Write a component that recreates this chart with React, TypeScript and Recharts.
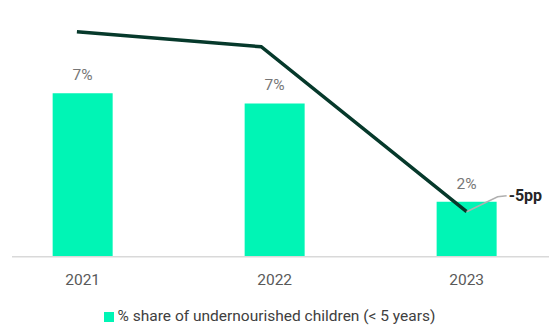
import React from 'react';
import {
  ComposedChart,
  Bar,
  Line,
  XAxis,
  YAxis,
  Legend,
  LabelList,
} from 'recharts';

const years = [2021, 2022, 2023];
const shareValues = [7.3, 6.85, 2.45];
const trendYears = [2020.97, 2021.93, 2023.0];
const trendValues = [10.05, 9.38, 2.01];
const seriesName = '% share of undernourished children (< 5 years)';
const changeLabel = '-5pp';

const barData = years.map((year, i) => ({ year, share: shareValues[i] }));
const trendData = trendYears.map((year, i) => ({ year, trend: trendValues[i] }));

const X_DOMAIN: [number, number] = [2020.632, 2023.429];

const ChangeAnnotation = (props: any) => {
  const { x, y, index } = props;
  if (index !== trendData.length - 1) return null;
  return (
    <g>
      <path
        d={`M${x},${y} L${x + 31},${y - 15} L${x + 40},${y - 16}`}
        stroke="#b0b0b0"
        strokeWidth={1.5}
        fill="none"
      />
      <text
        x={x + 42}
        y={y - 15}
        fill="#262626"
        fontSize={16}
        fontWeight={700}
        dominantBaseline="middle"
      >
        {changeLabel}
      </text>
    </g>
  );
};

export default function App() {
  return (
    <div
      style={{
        position: 'absolute',
        left: 0,
        top: 0,
        width: 549,
        height: 325,
        background: '#ffffff',
        fontFamily: 'Roboto, sans-serif',
        overflow: 'hidden',
      }}
    >
      <ComposedChart
        width={549}
        height={325}
        data={barData}
        margin={{ top: 10.5, right: 0, left: 12, bottom: 28.3 }}
      >
        <XAxis
          dataKey="year"
          type="number"
          domain={X_DOMAIN}
          allowDataOverflow
          ticks={years}
          tickLine={false}
          axisLine={{ stroke: '#d9d9d9', strokeWidth: 1.5 }}
          tick={{ fill: '#595959', fontSize: 15.5 }}
          tickMargin={11}
          height={40}
        />
        <XAxis
          xAxisId="trend"
          dataKey="year"
          type="number"
          domain={X_DOMAIN}
          allowDataOverflow
          hide
          height={40}
        />
        <YAxis hide domain={[0, 11]} allowDataOverflow />
        <Bar
          dataKey="share"
          name={seriesName}
          fill="#00F5B5"
          barSize={60}
          isAnimationActive={false}
        >
          <LabelList
            dataKey="share"
            position="top"
            offset={13}
            fill="#767676"
            fontSize={15.5}
            formatter={(v: any) => `${Math.round(Number(v))}%`}
          />
        </Bar>
        <Line
          xAxisId="trend"
          data={trendData}
          dataKey="trend"
          type="linear"
          stroke="#06392B"
          strokeWidth={3.5}
          dot={false}
          activeDot={false}
          legendType="none"
          isAnimationActive={false}
        >
          <LabelList dataKey="trend" content={ChangeAnnotation} />
        </Line>
        <Legend
          verticalAlign="middle"
          align="center"
          layout="horizontal"
          iconType="square"
          iconSize={10}
          wrapperStyle={{ top: 307, left: 0, width: 549, fontSize: 15.5 }}
          formatter={(value: any) => <span style={{ color: '#404040' }}>{value}</span>}
        />
      </ComposedChart>
    </div>
  );
}
